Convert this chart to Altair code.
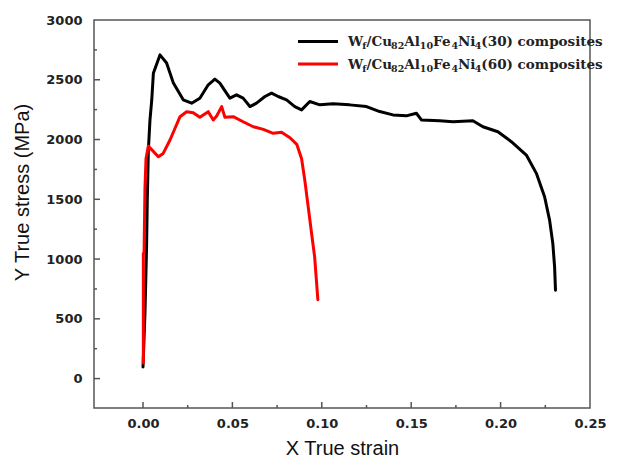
import altair as alt
import pandas as pd

# ---- data ----
black_strain = [0.0000, 0.0011, 0.0020, 0.0024, 0.0030, 0.0039, 0.0049, 0.0058, 0.0095, 0.0132,
                0.0170, 0.0225, 0.0272, 0.0318, 0.0365, 0.0402, 0.0430, 0.0467, 0.0486, 0.0523,
                0.0560, 0.0598, 0.0635, 0.0682, 0.0719, 0.0756, 0.0803, 0.0849, 0.0887, 0.0933,
                0.0989, 0.1063, 0.1156, 0.1250, 0.1324, 0.1398, 0.1473, 0.1529, 0.1557, 0.1659,
                0.1734, 0.1845, 0.1901, 0.1985, 0.2060, 0.2144, 0.2200, 0.2246, 0.2274, 0.2292,
                0.2302, 0.2307]
black_stress = [97, 546, 1102, 1493, 1912, 2163, 2331, 2554, 2708, 2640,
                2472, 2332, 2304, 2346, 2458, 2505, 2472, 2388, 2346, 2374,
                2346, 2276, 2304, 2360, 2388, 2360, 2332, 2276, 2248, 2318,
                2290, 2299, 2290, 2276, 2234, 2206, 2198, 2220, 2164, 2158,
                2149, 2157, 2107, 2065, 1982, 1870, 1717, 1521, 1326, 1131,
                935, 740]

red_strain = [0.0002, 0.0002, 0.0006, 0.0011, 0.0017, 0.0030, 0.0086, 0.0113, 0.0151, 0.0207,
              0.0244, 0.0281, 0.0318, 0.0365, 0.0393, 0.0412, 0.0440, 0.0458, 0.0505, 0.0560,
              0.0617, 0.0673, 0.0728, 0.0775, 0.0822, 0.0860, 0.0887, 0.0905, 0.0924, 0.0943,
              0.0960, 0.0970, 0.0978]
red_stress = [130, 1047, 1050, 1593, 1842, 1945, 1856, 1884, 1996, 2191,
              2233, 2224, 2186, 2233, 2163, 2197, 2275, 2186, 2191, 2149,
              2107, 2085, 2052, 2060, 2015, 1960, 1840, 1660, 1437, 1214,
              1018, 820, 660]

series_names = ["30", "60"]
series_colors = ["#000000", "#ff0000"]

x_major = [0.0, 0.05, 0.10, 0.15, 0.20]
x_minor = [0.025, 0.075, 0.125, 0.175, 0.225]
x_labels = [0.0, 0.05, 0.10, 0.15, 0.20, 0.25]
y_major = [0, 500, 1000, 1500, 2000, 2500]
y_minor = [250, 750, 1250, 1750, 2250, 2750]
y_labels = [0, 500, 1000, 1500, 2000, 2500, 3000]

x_title = "X True strain"
y_title = "Y True stress (MPa)"

# ---- build table ----
rows = []
for i, (s, v) in enumerate(zip(black_strain, black_stress)):
    rows.append({"strain": s, "stress": v, "series": "30", "idx": i})
for i, (s, v) in enumerate(zip(red_strain, red_stress)):
    rows.append({"strain": s, "stress": v, "series": "60", "idx": i})
df = pd.DataFrame(rows)

W, H = 496, 388
FRAME = "#555555"
xscale = alt.Scale(domain=[-0.0274, 0.25], nice=False, zero=False)
yscale = alt.Scale(domain=[-246, 3000], nice=False, zero=False)

x_axis = alt.Axis(values=x_labels, format=".2f", ticks=False, domain=False, grid=False,
                  labelPadding=9, labelFont="DejaVu Sans", labelFontWeight="bold",
                  labelFontSize=13, labelColor="#222222", labelFlush=False,
                  title=x_title, titleFont="Liberation Sans", titleFontSize=20,
                  titleFontWeight="normal", titleColor="#111111",
                  titleY=40, titleBaseline="middle")
y_axis = alt.Axis(values=y_labels, format="d", ticks=False, domain=False, grid=False,
                  labelPadding=12, labelFont="DejaVu Sans", labelFontWeight="bold",
                  labelFontSize=13, labelColor="#222222", labelFlush=False,
                  title=y_title, titleFont="Liberation Sans", titleFontSize=20,
                  titleFontWeight="normal", titleColor="#111111",
                  titleX=-72, titleY=172, titleBaseline="middle")

lines = alt.Chart(df).mark_line(strokeWidth=3, strokeJoin="round", strokeCap="round").encode(
    x=alt.X("strain:Q", scale=xscale, axis=x_axis),
    y=alt.Y("stress:Q", scale=yscale, axis=y_axis),
    color=alt.Color("series:N", scale=alt.Scale(domain=series_names, range=series_colors), legend=None),
    order="idx:Q",
)

def xticks(vals, length):
    return alt.Chart(pd.DataFrame({"strain": vals})).mark_rule(color=FRAME, strokeWidth=1.5).encode(
        x=alt.X("strain:Q", scale=xscale, axis=x_axis), y=alt.value(H), y2=alt.value(H - length))

def yticks(vals, length):
    return alt.Chart(pd.DataFrame({"stress": vals})).mark_rule(color=FRAME, strokeWidth=1.5).encode(
        y=alt.Y("stress:Q", scale=yscale, axis=y_axis), x=alt.value(0), x2=alt.value(length))

# ---- legend (hand-built for subscripts) ----
one = pd.DataFrame({"a": [0]})
widths = {"W": 1.06, "f": 0.44, "/": 0.37, "C": 0.74, "u": 0.71, "A": 0.78, "l": 0.37,
          "F": 0.72, "e": 0.64, "N": 0.87, "i": 0.37, "(": 0.47, ")": 0.47, " ": 0.35,
          "c": 0.59, "o": 0.66, "m": 1.05, "p": 0.71, "s": 0.59, "t": 0.47}
MAIN, SUB = 13.5, 9.5

def tw(t, size):
    return sum(widths.get(ch, 0.696) for ch in t) * size

legend_layers = []
leg_x0 = 254
for k, (name, col, ly) in enumerate(zip(series_names, series_colors, [21.5, 44])):
    legend_layers.append(alt.Chart(one).mark_rule(color=col, strokeWidth=3).encode(
        x=alt.value(204), x2=alt.value(244), y=alt.value(ly)))
    pieces = [("W", 0), ("f", 1), ("/Cu", 0), ("82", 1), ("Al", 0), ("10", 1), ("Fe", 0),
              ("4", 1), ("Ni", 0), ("4", 1), ("(" + name + ") composites", 0)]
    xx = leg_x0
    base = ly + 4.5
    for t, sub in pieces:
        size = SUB if sub else MAIN
        legend_layers.append(alt.Chart(one).mark_text(
            align="left", baseline="alphabetic", font="DejaVu Serif", fontWeight="bold",
            fontSize=size, color="#222222").encode(
            x=alt.value(xx), y=alt.value(base + (3 if sub else 0)), text=alt.value(t)))
        xx += tw(t, size)

chart = alt.layer(
    lines,
    xticks(x_major, 6), xticks(x_minor, 3),
    yticks(y_major, 6), yticks(y_minor, 3),
    *legend_layers,
).properties(
    width=W, height=H,
    autosize=alt.AutoSizeParams(type="none"),
    padding={"left": 86, "top": 12, "right": 20, "bottom": 49},
).configure_view(stroke=FRAME, strokeWidth=1.5)

chart.save("out.html", embed_options={"renderer": "svg", "actions": False})
